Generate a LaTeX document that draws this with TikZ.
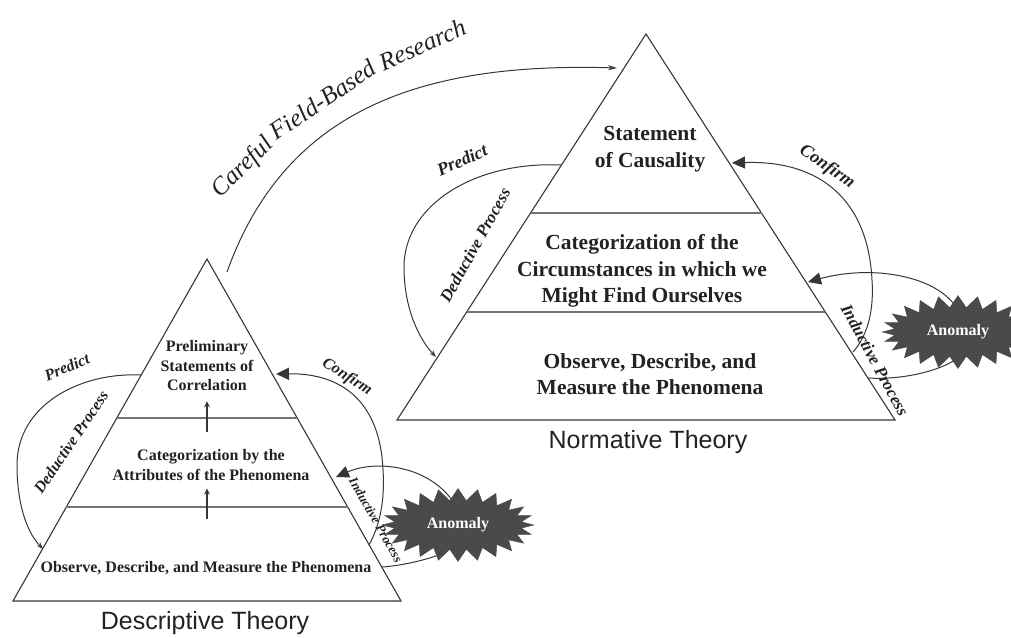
\documentclass[tikz,border=0pt]{standalone}
\usepackage{fontspec}
\setmainfont{Liberation Serif}
\setsansfont{Liberation Sans}
\usetikzlibrary{arrows.meta,shapes.symbols,calc}

\definecolor{ink}{HTML}{363636}
\definecolor{tierline}{HTML}{747474}
\definecolor{burst}{HTML}{4A4A4A}
\definecolor{txt}{HTML}{222222}

\begin{document}
\begin{tikzpicture}[x=1pt,y=-1pt,
  edge/.style={draw=ink, line width=1.1pt, line join=miter},
  tier/.style={draw=tierline, line width=1.8pt},
  smalltxt/.style={font=\bfseries\fontsize{16}{19.5}\selectfont, align=center, text=txt, inner sep=2pt},
  bigtxt/.style={font=\bfseries\fontsize{21.5}{26.5}\selectfont, align=center, text=txt, inner sep=2pt},
  caption/.style={font=\sffamily\fontsize{25}{30}\selectfont, text=txt},
  tag/.style={font=\bfseries\itshape\fontsize{#1}{#1}\selectfont, text=txt, inner sep=0pt},
  arcword/.style={font=\itshape\fontsize{25}{25}\selectfont, text=txt, inner sep=0pt, sloped, anchor=base},
  loop/.style={draw=ink, line width=1pt},
  predarrow/.style={loop, -{Stealth[length=7pt,width=5pt]}},
  backarrow/.style={loop, -{Triangle[length=13pt,width=12pt]}},
  anomaly/.style={starburst, fill=burst, draw=burst, starburst points=24,
    starburst point height=12pt, random starburst=0, text=white,
    font=\bfseries\fontsize{16}{16}\selectfont, inner xsep=14pt, inner ysep=10pt},
  uparrow/.style={draw=ink, line width=1.6pt, -{Stealth[length=6pt,width=6pt]}}
]
\useasboundingbox (0,0) rectangle (1011,637);

% ---------- Descriptive theory pyramid ----------
\coordinate (LA) at (207,259);
\coordinate (LL) at (13,601);
\coordinate (LR) at (401,601);
\draw[edge] (LA) -- (LL) -- (LR) -- cycle;
\draw[tier] (116.8,418) -- (297.2,418);
\draw[tier] (66.3,507) -- (347.7,507);

\node[smalltxt] (l3) at (207,366) {Preliminary\\Statements of\\Correlation};
\node[smalltxt] (l2) at (211,465) {Categorization by the\\Attributes of the Phenomena};
\node[smalltxt] (l1) at (206,568) {Observe, Describe, and Measure the Phenomena};
\node[caption] (lcap) at (205,623) {Descriptive Theory};

\draw[uparrow, shorten <=15pt, shorten >=8pt] (l2.north -| l3.south) -- (l3.south);
\draw[uparrow, shorten <=40pt, shorten >=6pt] (l1.north -| l3.south) -- (l2.south -| l3.south);

% ---------- Normative theory pyramid ----------
\coordinate (RA) at (646,34);
\coordinate (RL) at (397,420);
\coordinate (RR) at (895,420);
\draw[edge] (RA) -- (RL) -- (RR) -- cycle;
\draw[tier] (530.5,213) -- (761.5,213);
\draw[tier] (466.7,312) -- (825.3,312);

\node[bigtxt] (r3) at (650,149) {Statement\\of Causality};
\node[bigtxt] (r2) at (642,271) {Categorization of the\\Circumstances in which we\\Might Find Ourselves};
\node[bigtxt] (r1) at (650,374) {Observe, Describe, and\\Measure the Phenomena};
\node[caption] (rcap) at (648,442) {Normative Theory};

% ---------- anomalies ----------
\node[anomaly] (anL) at (458,525) {Anomaly};
\node[anomaly] (anR) at (958,332) {Anomaly};

% ---------- left loops ----------
\coordinate (lp0) at (141,375);
\coordinate (lp1) at (43,549);
\draw[predarrow] (lp0) .. controls (80,372) and (17,405) .. (17,465)
  .. controls (17,500) and (25,530) .. (lp1);

\coordinate (lc0) at (369,545);
\coordinate (lc1) at (276,374);
\draw[backarrow] (lc0) .. controls (380,525) and (385,500) .. (383,470)
  .. controls (380,400) and (340,373) .. (lc1);

\coordinate (li1) at (336,477);
\draw[backarrow] (anL.105) .. controls (425,465) and (375,460) .. (li1);
\coordinate (lb0) at (382,567);
\draw[loop] (lb0) .. controls (400,566) and (425,560) .. (anL.235);

% ---------- right loops ----------
\coordinate (rp0) at (561,165);
\coordinate (rp1) at (436,357);
\draw[predarrow] (rp0) .. controls (475,161) and (404,205) .. (404,267)
  .. controls (404,310) and (420,340) .. (rp1);

\coordinate (rc0) at (853,352);
\coordinate (rc1) at (732,163);
\draw[backarrow] (rc0) .. controls (868,335) and (874,310) .. (872,280)
  .. controls (868,200) and (820,160) .. (rc1);

\coordinate (ri1) at (808,282);
\draw[backarrow] (anR.100) .. controls (930,275) and (870,265) .. (ri1);
\coordinate (rb0) at (868,378);
\draw[loop] (rb0) .. controls (900,380) and (935,372) .. (anR.260);

% ---------- field research link ----------
\coordinate (cf0) at (227,272);
\coordinate (cf1) at (617,68);
\draw[loop, -{Stealth[length=9pt,width=5pt]}] (cf0) .. controls (285,110) and (420,62) .. (cf1);
% its caption, word by word along a curved baseline
\path (221,200) .. controls (290,120) and (390,60) .. (490,28)
  node[arcword, pos=0.12] (cw1) {Careful}
  node[arcword, pos=0.44] (cw2) {Field-Based}
  node[arcword, pos=0.785] (cw3) {Research};

% ---------- process labels ----------
\node[tag=16, rotate=23] (lpred) at (67,367) {Predict};
\node[tag=16, rotate=56] (lded) at (71,442) {Deductive Process};
\node[tag=16, rotate=-33] (lconf) at (347,377) {Confirm};
\node[tag=13, rotate=-60.4] (lind) at (376,520) {Inductive Process};
\node[tag=18, rotate=24] (rpred) at (462,160) {Predict};
\node[tag=17, rotate=61] (rded) at (475,245) {Deductive Process};
\node[tag=18, rotate=-35] (rconf) at (827,167) {Confirm};
\node[tag=17, rotate=-61.6] (rind) at (875,360) {Inductive Process};
\end{tikzpicture}
\end{document}
